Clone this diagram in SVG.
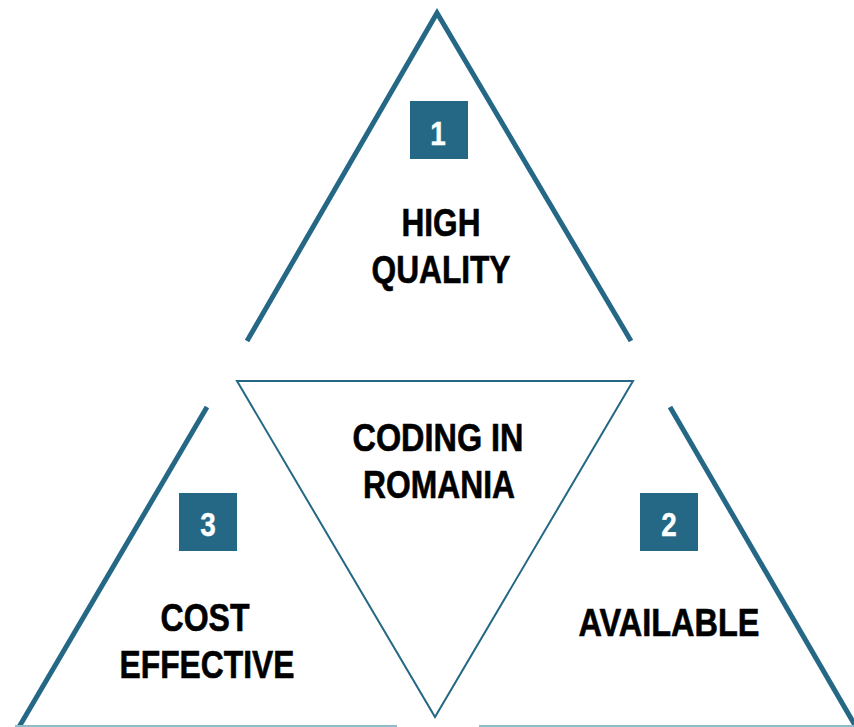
<svg xmlns="http://www.w3.org/2000/svg" width="854" height="727" viewBox="0 0 854 727">
<style>
.leg{fill:none;stroke:#246886;stroke-width:5;stroke-linejoin:miter;stroke-linecap:butt}
.thin{fill:none;stroke:#246886;stroke-width:2}
.base{fill:none;stroke:#8fbccb;stroke-width:2}
.box{fill:#246886}
.lbl{font-family:"Liberation Sans",Arial,sans-serif;font-weight:bold;font-size:39px;fill:#000;stroke:#000;stroke-width:0.6;text-anchor:middle}
.num{font-family:"Liberation Sans",Arial,sans-serif;font-weight:bold;font-size:34px;fill:#fff;stroke:#fff;stroke-width:0.4;text-anchor:middle}
</style>
<rect width="854" height="727" fill="#fff"/>
<g id="top">
<polyline class="leg" points="247,341 437,13 631,341"/>
<rect class="box" x="410" y="101" width="58" height="58"/>
<text class="num" x="438" y="145" transform="translate(438 0) scale(0.82 1) translate(-438 0)">1</text>
<text class="lbl" x="441" y="236" textLength="79" lengthAdjust="spacingAndGlyphs">HIGH</text>
<text class="lbl" x="441" y="283" textLength="139" lengthAdjust="spacingAndGlyphs">QUALITY</text>
</g>
<g id="center">
<polygon class="thin" points="237,381 633,381 435,717"/>
<text class="lbl" x="438" y="451" textLength="171" lengthAdjust="spacingAndGlyphs">CODING IN</text>
<text class="lbl" x="439" y="498" textLength="152" lengthAdjust="spacingAndGlyphs">ROMANIA</text>
</g>
<g id="left">
<line class="leg" x1="207" y1="407" x2="19" y2="727"/>
<line class="base" x1="15" y1="726" x2="397" y2="726"/>
<rect class="box" x="179" y="493" width="58" height="58"/>
<text class="num" x="208" y="536" transform="translate(208 0) scale(0.82 1) translate(-208 0)">3</text>
<text class="lbl" x="205" y="631" textLength="89" lengthAdjust="spacingAndGlyphs">COST</text>
<text class="lbl" x="207" y="678" textLength="175" lengthAdjust="spacingAndGlyphs">EFFECTIVE</text>
</g>
<g id="right">
<line class="leg" x1="670" y1="407" x2="856" y2="727"/>
<line class="base" x1="479" y1="726" x2="854" y2="726"/>
<rect class="box" x="640" y="493" width="58" height="58"/>
<text class="num" x="669" y="536" transform="translate(669 0) scale(0.82 1) translate(-669 0)">2</text>
<text class="lbl" x="669" y="636" textLength="181" lengthAdjust="spacingAndGlyphs">AVAILABLE</text>
</g>
<g id="connectors"></g>
</svg>
